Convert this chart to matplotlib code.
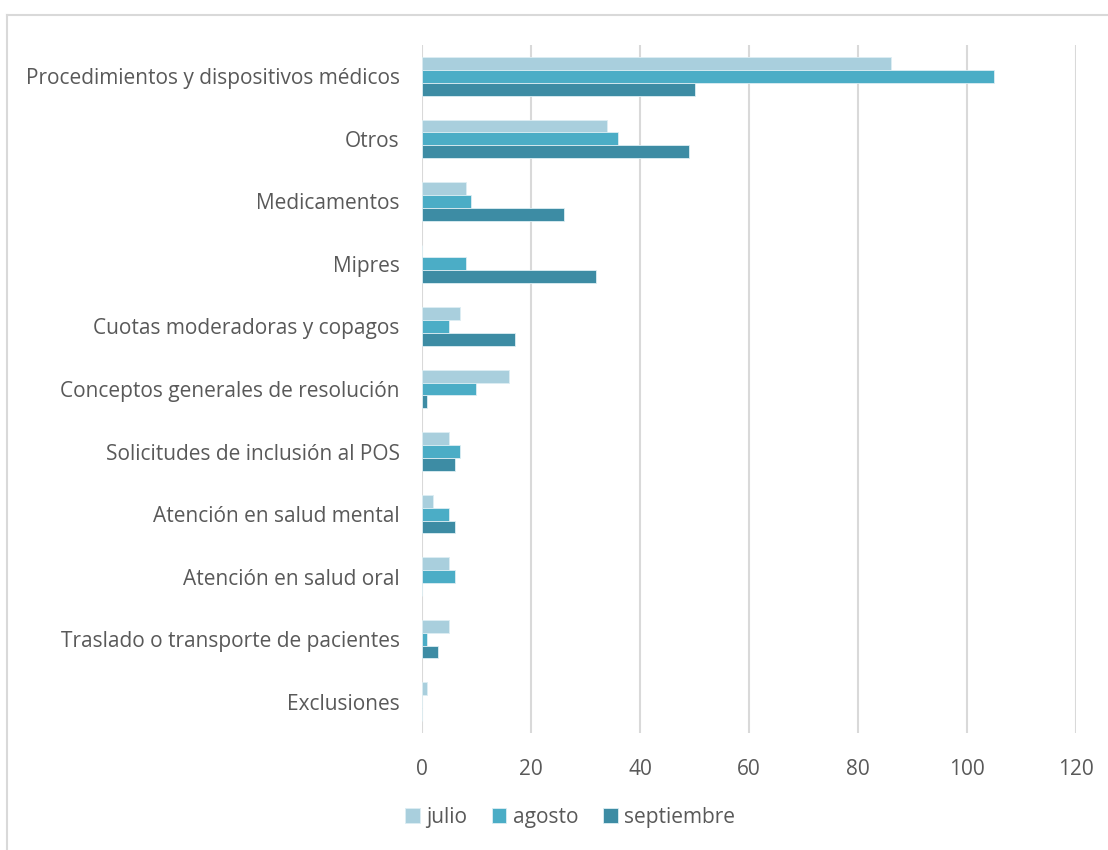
import numpy as np
import matplotlib
matplotlib.use("Agg")
import matplotlib.pyplot as plt
from matplotlib.lines import Line2D

categorias = [
    "Procedimientos y dispositivos médicos",
    "Otros",
    "Medicamentos",
    "Mipres",
    "Cuotas moderadoras y copagos",
    "Conceptos generales de resolución",
    "Solicitudes de inclusión al POS",
    "Atención en salud mental",
    "Atención en salud oral",
    "Traslado o transporte de pacientes",
    "Exclusiones",
]
julio = [86, 34, 8, 0, 7, 16, 5, 2, 5, 5, 1]
agosto = [105, 36, 9, 8, 5, 10, 7, 5, 6, 1, 0]
septiembre = [50, 49, 26, 32, 17, 1, 6, 6, 0, 3, 0]
series = ["julio", "agosto", "septiembre"]
colores = ["#a9cfdd", "#4badc6", "#3d8ca4"]
xticks = [0, 20, 40, 60, 80, 100, 120]

plt.rcParams["font.family"] = ["Open Sans", "DejaVu Sans"]
texto = "#595959"

fig = plt.figure(figsize=(11.08, 8.5), dpi=100)
ax = fig.add_axes([422 / 1108, 1 - 733 / 850, 654 / 1108, 688 / 850])

y = np.arange(len(categorias))
h = 0.205
for i, (vals, nombre, col) in enumerate(zip([julio, agosto, septiembre], series, colores)):
    ax.barh(y + (i - 1) * h, vals, height=h, color=col, edgecolor="#ddeef3",
            linewidth=0.6, label=nombre, zorder=3)

ax.set_xlim(0, 120)
ax.set_ylim(len(categorias) - 0.5, -0.5)
ax.set_xticks(xticks)
ax.set_xticklabels([str(t) for t in xticks])
ax.set_yticks(y)
ax.set_yticklabels(categorias)
ax.grid(axis="x", color="#d9d9d9", linewidth=1.5, zorder=0)
for s in ax.spines.values():
    s.set_visible(False)
ax.tick_params(axis="both", length=0, labelsize=15, colors=texto)
ax.tick_params(axis="y", pad=16)
ax.tick_params(axis="x", pad=19)

leg = ax.legend(loc="upper center", bbox_to_anchor=(148 / 654, -0.08), ncol=3,
                frameon=False, fontsize=15, handlelength=0.7, handleheight=0.7,
                handletextpad=0.3, columnspacing=1.2)
for t in leg.get_texts():
    t.set_color(texto)

# marco del gráfico
fig.add_artist(Line2D([7 / 1108, 7 / 1108], [0, 1 - 15 / 850], color="#d9d9d9", linewidth=1.5))
fig.add_artist(Line2D([7 / 1108, 1], [1 - 15 / 850, 1 - 15 / 850], color="#d9d9d9", linewidth=1.5))

fig.savefig("out.png", dpi=100)
